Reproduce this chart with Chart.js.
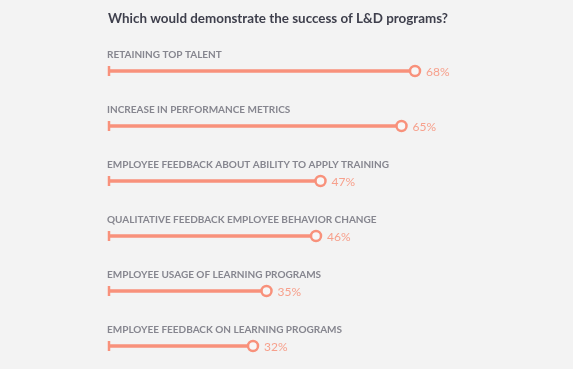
<!DOCTYPE html>
<html>
<head>
<meta charset="utf-8">
<script src="https://cdn.jsdelivr.net/npm/chart.js@4"></script>
<style>
  html, body { margin: 0; padding: 0; background: #f3f3f3; }
  #wrap { width: 573px; height: 369px; }
</style>
</head>
<body>
<div id="wrap"><canvas id="ldChart"></canvas></div>
<script>
const title = 'Which would demonstrate the success of L&D programs?';
const categories = [
    'RETAINING TOP TALENT',
    'INCREASE IN PERFORMANCE METRICS',
    'EMPLOYEE FEEDBACK ABOUT ABILITY TO APPLY TRAINING',
    'QUALITATIVE FEEDBACK EMPLOYEE BEHAVIOR CHANGE',
    'EMPLOYEE USAGE OF LEARNING PROGRAMS',
    'EMPLOYEE FEEDBACK ON LEARNING PROGRAMS'
];
const values = [68, 65, 47, 46, 35, 32];
const starts = [0, 0, 0, 0, 0, 0];

const salmon = '#f8917b';

// title, category names above each line and % after each dot
const textPlugin = {
    id: 'ldText',
    afterDatasetsDraw: (chart) => {
        const { ctx } = chart;
        ctx.save();
        ctx.fillStyle = '#3e3f4c';
        ctx.font = 'bold 13.4px Lato, "Open Sans", sans-serif';
        ctx.textBaseline = 'alphabetic';
        ctx.fillText(title, 108, 23);

        const dots = chart.getDatasetMeta(1).data;
        dots.forEach((pt, i) => {
            ctx.fillStyle = '#86868f';
            ctx.font = 'bold 10px Lato, sans-serif';
            ctx.fillText(categories[i], 107, pt.y - 13.5);
            ctx.fillStyle = '#f7a08c';
            ctx.font = '12px Lato, sans-serif';
            ctx.fillText(values[i] + '%', pt.x + 11, pt.y + 4.5);
        });
        ctx.restore();
    }
};

const ctx = document.getElementById('ldChart');

new Chart(ctx, {
    type: 'bar',
    data: {
        labels: categories,
        datasets: [{
            data: values,
            backgroundColor: salmon,
            barThickness: 3,
            clip: false,
            order: 3
        }, {
            type: 'line',
            data: values,
            showLine: false,
            pointRadius: 5,
            pointBorderWidth: 2.5,
            pointBorderColor: salmon,
            pointBackgroundColor: '#f7f7f7',
            clip: false,
            order: 1
        }, {
            type: 'line',
            data: starts,
            showLine: false,
            pointStyle: 'line',
            rotation: 90,
            pointRadius: 5,
            pointBorderWidth: 2.5,
            pointBorderColor: salmon,
            clip: false,
            order: 2
        }]
    },
    options: {
        indexAxis: 'y',
        responsive: true,
        maintainAspectRatio: false,
        animation: false,
        layout: {
            padding: { left: 109, right: 14, top: 71, bottom: 23 }
        },
        scales: {
            x: { display: false, min: 0, max: 100 },
            y: { display: false, offset: false }
        },
        plugins: {
            legend: { display: false },
            tooltip: { enabled: false }
        }
    },
    plugins: [textPlugin]
});
</script>
</body>
</html>
